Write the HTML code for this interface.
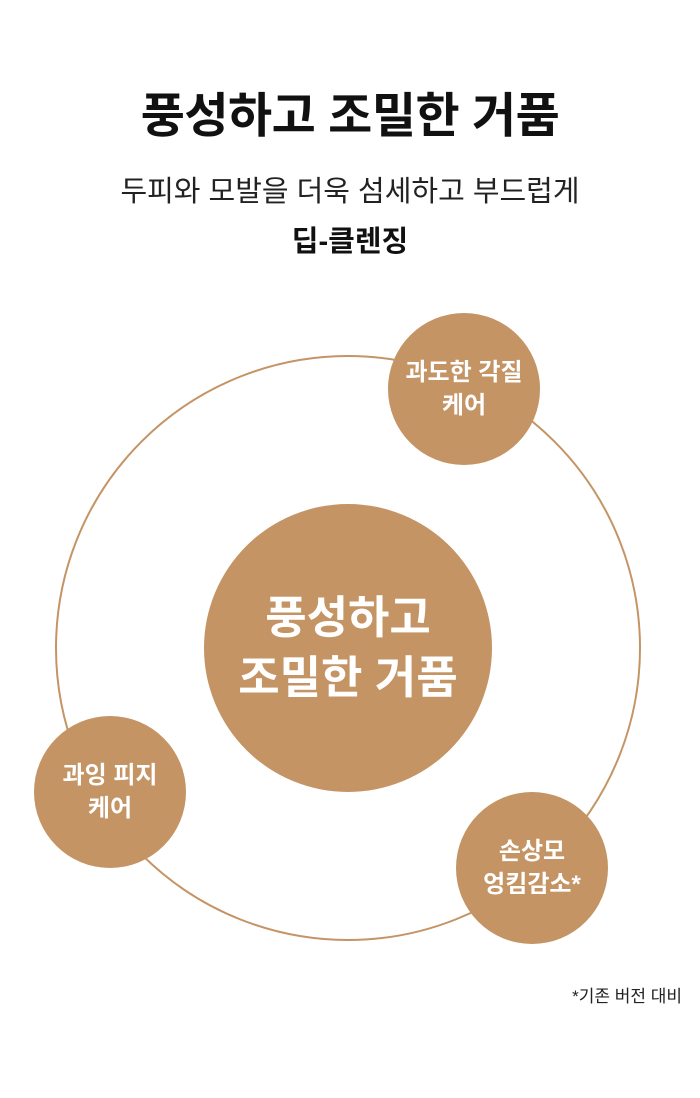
<!DOCTYPE html>
<html><head><meta charset="utf-8"><style>
html,body{margin:0;padding:0;background:#fff;}
body{width:700px;height:1098px;position:relative;overflow:hidden;font-family:"Liberation Sans","Noto Sans CJK KR",sans-serif;}
.t{position:absolute;left:0;width:700px;text-align:center;color:#111;}
.c{position:absolute;border-radius:50%;background:#c49464;color:#fff;font-weight:bold;display:flex;align-items:center;justify-content:center;text-align:center;}
</style></head><body>
<div class="t" style="top:76px;font-size:48px;font-weight:bold;letter-spacing:-0.5px;">풍성하고 조밀한 거품</div>
<div class="t" style="top:168px;font-size:29px;color:#222;">두피와 모발을 더욱 섬세하고 부드럽게</div>
<div class="t" style="top:218px;font-size:29px;font-weight:bold;">딥-클렌징</div>
<div style="position:absolute;left:55px;top:355px;width:582px;height:582px;border:2px solid #c49464;border-radius:50%;"></div>
<div class="c" style="left:204px;top:504px;width:288px;height:288px;font-size:45px;line-height:60px;">풍성하고<br>조밀한 거품</div>
<div class="c" style="left:388px;top:313px;width:152px;height:152px;font-size:24px;line-height:33px;">과도한 각질<br>케어</div>
<div class="c" style="left:34px;top:716px;width:152px;height:152px;font-size:24px;line-height:33px;">과잉 피지<br>케어</div>
<div class="c" style="left:456px;top:792px;width:152px;height:152px;font-size:24px;line-height:33px;">손상모<br>엉킴감소*</div>
<div style="position:absolute;right:18px;top:982px;font-size:17px;color:#222;">*기존 버전 대비</div>
</body></html>
